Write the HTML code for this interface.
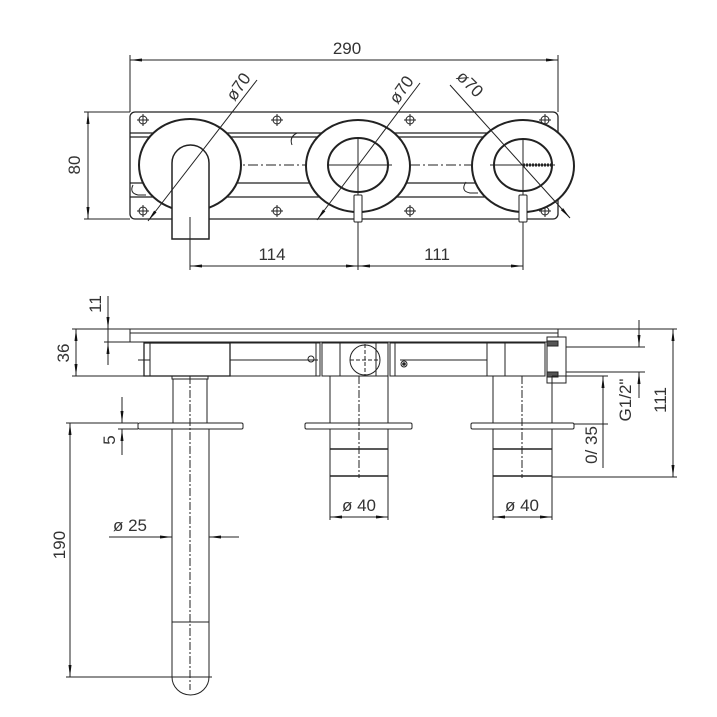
<!DOCTYPE html>
<html><head><meta charset="utf-8"><style>
html,body{margin:0;padding:0;background:#fff;}
svg{display:block;}
text{font-family:"Liberation Sans",sans-serif;font-size:17px;fill:#333;}
</style></head><body>
<svg width="717" height="717" viewBox="0 0 717 717" xmlns="http://www.w3.org/2000/svg">
<defs>
<marker id="a" viewBox="0 0 12 4" refX="12" refY="2" markerWidth="12" markerHeight="4" orient="auto-start-reverse" markerUnits="userSpaceOnUse"><path d="M0,0.5 L12,2 L0,3.5z" fill="#111"/></marker>
<g id="scr"><circle r="4" fill="none" stroke="#222" stroke-width="1"/><path d="M-6,0H6M0,-6V6" stroke="#222" stroke-width="1"/></g>
</defs>
<g stroke="#222" stroke-width="1" fill="none">
<!-- TOP VIEW -->
<path d="M130,55V112M558,55V112"/>
<line x1="130" y1="60" x2="558" y2="60" marker-start="url(#a)" marker-end="url(#a)"/>
<rect x="130" y="112" width="428" height="107" rx="5" stroke-width="1.3"/>
<path d="M130,133H558M130,137H558M130,183H558M130,197H558" stroke-width="1.2"/>
<path d="M140,165H545" stroke-dasharray="10,3,2,3"/>
<path d="M133,185 q-4,8 5,10 h8" />
<path d="M466,182 q-6,9 4,11 h8" />
<path d="M297,133 q-8,4 -5,12" />
<path d="M84,112H130M84,219H130"/>
<line x1="88" y1="112" x2="88" y2="219" marker-start="url(#a)" marker-end="url(#a)"/>
<use href="#scr" x="143" y="120"/><use href="#scr" x="277" y="120"/><use href="#scr" x="410" y="120"/><use href="#scr" x="545" y="120"/>
<use href="#scr" x="143" y="211"/><use href="#scr" x="277" y="211"/><use href="#scr" x="410" y="211"/><use href="#scr" x="545" y="211"/>
<ellipse cx="190" cy="165" rx="51" ry="46" fill="#fff" stroke-width="2"/>
<ellipse cx="358" cy="166" rx="52" ry="46" fill="#fff" stroke-width="2"/>
<ellipse cx="523" cy="166" rx="51" ry="46" fill="#fff" stroke-width="2"/>
<ellipse cx="358" cy="165" rx="30" ry="27" stroke-width="2"/>
<ellipse cx="523" cy="165" rx="29" ry="26" stroke-width="2"/>
<path d="M172,239V163a18.5,18 0 0 1 37,0V239Z" fill="#fff" stroke-width="1.5"/>
<path d="M190,217V270"/>
<path d="M327,165H392M358,138V270M490,165H555M523,138V270"/>
<path d="M523,165H551" stroke-width="3" stroke-dasharray="2,1"/>
<rect x="354" y="195" width="8" height="27" rx="1" fill="#fff"/>
<rect x="519" y="195" width="8" height="27" rx="1" fill="#fff"/>
<line x1="190" y1="266" x2="358" y2="266" marker-start="url(#a)" marker-end="url(#a)"/>
<line x1="358" y1="266" x2="523" y2="266" marker-start="url(#a)" marker-end="url(#a)"/>
<line x1="148" y1="221" x2="257" y2="80" marker-start="url(#a)"/>
<line x1="317" y1="220" x2="420" y2="83" marker-start="url(#a)"/>
<line x1="450" y1="85" x2="570" y2="218" marker-end="url(#a)"/>
<!-- BOTTOM VIEW -->
<path d="M104,329H566M130,333H558M130,342H558" />
<path d="M130,329V342M558,329V337" />
<path d="M104,342H130"/>
<path d="M72,329H104M72,376H144"/>
<line x1="76" y1="329" x2="76" y2="376" marker-start="url(#a)" marker-end="url(#a)"/>
<line x1="108" y1="296" x2="108" y2="329" marker-end="url(#a)"/>
<line x1="108" y1="365" x2="108" y2="342" marker-end="url(#a)"/>
<path d="M108,329V342"/>
<rect x="144" y="343" width="86" height="33" stroke-width="1.3"/>
<path d="M150,343V376"/>
<rect x="230" y="343" width="90" height="33"/>
<path d="M316,343V376M230,360H318M138,360H150"/>
<circle cx="311" cy="359" r="3"/>
<rect x="322" y="343" width="66" height="33"/>
<path d="M340,343V376M376,343V376"/>
<circle cx="365" cy="360" r="15"/>
<path d="M350,360H380M365,344V376" stroke-dasharray="4,2"/>
<rect x="390" y="343" width="97" height="33"/>
<path d="M395,343V376M400,360H487"/>
<circle cx="404" cy="364" r="3"/><circle cx="404" cy="364" r="1.3" fill="#222"/>
<path d="M487,343H545V376H487M505,343V376"/>
<rect x="547" y="337" width="19" height="46"/>
<rect x="547" y="341" width="11" height="5" fill="#555"/>
<rect x="547" y="372" width="11" height="5" fill="#555"/>
<path d="M566,347H645M566,372H645"/>
<line x1="639" y1="320" x2="639" y2="347" marker-end="url(#a)"/>
<line x1="639" y1="398" x2="639" y2="372" marker-end="url(#a)"/>
<path d="M566,329H677M552,477H677"/>
<line x1="673" y1="329" x2="673" y2="477" marker-start="url(#a)" marker-end="url(#a)"/>
<path d="M552,376H608M574,424H608"/>
<line x1="603" y1="424" x2="603" y2="376" marker-end="url(#a)"/>
<path d="M603,424V468"/>
<!-- spout -->
<rect x="172" y="376" width="36" height="3"/>
<path d="M173,379V424M207,379V424"/>
<rect x="138" y="423" width="105" height="6" rx="1.5" fill="#fff"/>
<path d="M172,429V677a18.5,18 0 0 0 37,0V429M172,622H209"/>
<path d="M190,376V690" stroke-dasharray="8,2,2,2"/>
<path d="M66,423H138M66,677H212"/>
<line x1="70" y1="423" x2="70" y2="677" marker-start="url(#a)" marker-end="url(#a)"/>
<line x1="122" y1="397" x2="122" y2="423" marker-end="url(#a)"/>
<line x1="122" y1="455" x2="122" y2="429" marker-end="url(#a)"/>
<path d="M118,429H138"/>
<path d="M109,537H172"/>
<line x1="150" y1="537" x2="172" y2="537" marker-end="url(#a)"/>
<line x1="239" y1="537" x2="209" y2="537" marker-end="url(#a)"/>
<!-- middle stem -->
<path d="M330,376V520M388,376V520"/>
<rect x="305" y="423" width="107" height="6" rx="1.5" fill="#fff"/>
<path d="M330,449H388M330,476H388" stroke-width="1.5"/>
<path d="M359,376V478" stroke-dasharray="8,2,2,2"/>
<line x1="330" y1="517" x2="388" y2="517" marker-start="url(#a)" marker-end="url(#a)"/>
<!-- right stem -->
<path d="M493,376V520M552,376V520"/>
<rect x="471" y="423" width="103" height="6" rx="1.5" fill="#fff"/>
<path d="M493,449H552M493,476H552" stroke-width="1.5"/>
<path d="M522,376V478" stroke-dasharray="8,2,2,2"/>
<line x1="493" y1="517" x2="552" y2="517" marker-start="url(#a)" marker-end="url(#a)"/>
</g>
<g>
<text x="347" y="54" text-anchor="middle">290</text>
<text x="272" y="260" text-anchor="middle">114</text>
<text x="437" y="260" text-anchor="middle">111</text>
<text transform="translate(80,165) rotate(-90)" text-anchor="middle">80</text>
<text transform="translate(243,90) rotate(-55)" text-anchor="middle">ø70</text>
<text transform="translate(406,93) rotate(-55)" text-anchor="middle">ø70</text>
<text transform="translate(466,88) rotate(45)" text-anchor="middle">ø70</text>
<text transform="translate(101,304) rotate(-90)" text-anchor="middle">11</text>
<text transform="translate(69,353) rotate(-90)" text-anchor="middle">36</text>
<text transform="translate(115,440) rotate(-90)" text-anchor="middle">5</text>
<text transform="translate(65,545) rotate(-90)" text-anchor="middle">190</text>
<text x="130" y="531" text-anchor="middle">ø 25</text>
<text x="359" y="511" text-anchor="middle">ø 40</text>
<text x="522" y="511" text-anchor="middle">ø 40</text>
<text transform="translate(631,400) rotate(-90)" text-anchor="middle">G1/2"</text>
<text transform="translate(597,445) rotate(-90)" text-anchor="middle">0/ 35</text>
<text transform="translate(666,400) rotate(-90)" text-anchor="middle">111</text>
</g>
</svg>
</body></html>
